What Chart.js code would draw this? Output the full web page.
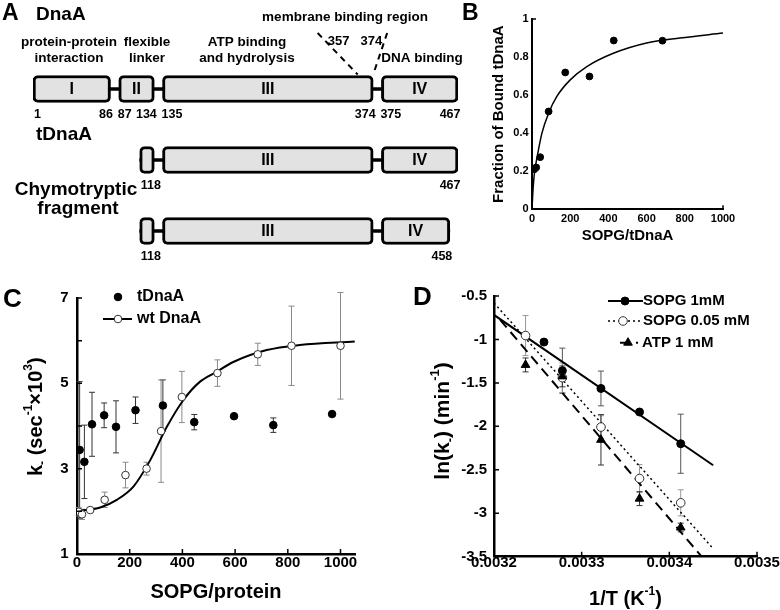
<!DOCTYPE html>
<html>
<head>
<meta charset="utf-8">
<title>DnaA / tDnaA</title>
<script src="https://cdn.jsdelivr.net/npm/chart.js@4.4.1/dist/chart.umd.min.js"></script>
<style>
  body { margin: 0; background: #fff; }
  #fig { position: relative; width: 780px; height: 610px; overflow: hidden; }
  #fig canvas { position: absolute; }
</style>
</head>
<body>
<div id="fig">
  <canvas id="chartA" width="480" height="270" style="left:0;top:0"></canvas>
  <canvas id="chartB" width="325" height="300" style="left:455px;top:0"></canvas>
  <canvas id="chartC" width="390" height="330" style="left:0;top:280px"></canvas>
  <canvas id="chartD" width="390" height="330" style="left:390px;top:280px"></canvas>
</div>
<script>
// A: domain map, residue numbers
var rowNames = ["DnaA", "tDnaA", "Chymotryptic fragment"];
var dnaADomains = [[1, 86], [87, 134], [135, 374], [375, 467]];
var tDnaADomains = [[118, 134], [135, 374], [375, 467]];
var chymoDomains = [[118, 134], [135, 374], [375, 458]];
var domainNames = [["I", "II", "III", "IV"], ["", "III", "IV"], ["", "III", "IV"]];
var membraneSites = [357, 374];

// B: binding
var boundRatio = [12, 22, 43, 87, 174, 301, 428, 683];
var boundFraction = [0.21, 0.22, 0.274, 0.514, 0.719, 0.698, 0.887, 0.886];
var boundFitX = [0, 4, 8, 14, 26, 52, 87, 130, 200, 287, 426, 600, 774, 1000];
var boundFitY = [0, 0.08, 0.14, 0.2, 0.27, 0.4, 0.505, 0.593, 0.68, 0.75, 0.82, 0.874, 0.9, 0.926];

// C: rate vs SOPG/protein
var tDnaARatio = [10, 28, 57, 103, 148, 222, 326, 445, 596, 745, 968];
var tDnaARate = [3.44, 3.16, 4.04, 4.25, 3.98, 4.37, 4.48, 4.09, 4.23, 4.02, 4.28];
var tDnaAErr = [1.6, 0.86, 0.75, 0.29, 0.61, 0.31, 0.6, 0.18, 0, 0.17, 0];
var wtRatio = [6, 19, 50, 105, 184, 264, 319, 398, 533, 686, 814, 1000];
var wtRate = [1.99, 1.93, 2.03, 2.27, 2.85, 3.0, 3.88, 4.68, 5.24, 5.68, 5.88, 5.88];
var wtErr = [0.1, 0.12, 0.05, 0.18, 0.3, 0.15, 1.2, 0.6, 0.31, 0.26, 0.93, 1.25];
var wtFitX = [6, 88, 151, 214, 278, 341, 404, 467, 530, 593, 720, 846, 1054];
var wtFitY = [2.01, 2.09, 2.27, 2.58, 3.2, 3.98, 4.61, 5.04, 5.27, 5.5, 5.78, 5.9, 5.98];

// D: Arrhenius
var invTSopg1mM = [0.003257, 0.003278, 0.003322, 0.003366, 0.003413];
var lnkSopg1mM = [-1.03, -1.36, -1.564, -1.835, -2.2];
var errSopg1mM = [0, 0.26, 0.2, 0, 0.34];
var invTSopg005 = [0.003236, 0.003278, 0.003322, 0.003366, 0.003413];
var lnkSopg005 = [-0.955, -1.44, -2.008, -2.6, -2.88];
var errSopg005 = [0.23, 0.17, 0.13, 0.16, 0.15];
var invTAtp = [0.003236, 0.003278, 0.003322, 0.003366, 0.003413];
var lnkAtp = [-1.293, -1.425, -2.155, -2.832, -3.164];
var errAtp = [0.08, 0.12, 0.29, 0.08, 0.05];
var fitSopg1mMX = [0.0032, 0.00345];
var fitSopg1mMY = [-0.718, -2.448];
var fitSopg005X = [0.0032, 0.00345];
var fitSopg005Y = [-0.58, -3.407];
var fitAtpX = [0.003207, 0.003437];
var fitAtpY = [-0.774, -3.5];

var FONT = '"Liberation Sans", Arial, Helvetica, sans-serif';
Chart.defaults.font.family = FONT;
Chart.defaults.font.weight = "bold";
Chart.defaults.color = "#000";

var GAP = 8; // blank residues before each following domain (linker)
var BOX_H = 27;
var constructs = [dnaADomains, tDnaADomains, chymoDomains];

function pts(xs, ys) {
  return xs.map(function (x, i) { return { x: x, y: ys[i] }; });
}

function say(ctx, s, x, y, size, align, base) {
  ctx.save();
  ctx.font = "bold " + size + "px " + FONT;
  ctx.fillStyle = "#000";
  ctx.textAlign = align || "left";
  ctx.textBaseline = base || "alphabetic";
  ctx.fillText(s, x, y);
  ctx.restore();
}

// text with sub/superscripts, centred on (x, y)
function rich(ctx, runs, x, y, size, vertical) {
  function font(k) { return "bold " + (k ? Math.round(size * 0.62) : size) + "px " + FONT; }
  ctx.save();
  ctx.translate(x, y);
  if (vertical) ctx.rotate(-Math.PI / 2);
  var w = 0;
  runs.forEach(function (r) { ctx.font = font(r[1]); w += ctx.measureText(r[0]).width; });
  var cx = -w / 2;
  ctx.fillStyle = "#000";
  ctx.textAlign = "left";
  ctx.textBaseline = "middle";
  runs.forEach(function (r) {
    ctx.font = font(r[1]);
    var dy = r[1] === 1 ? -size * 0.38 : r[1] === -1 ? size * 0.32 : 0;
    ctx.fillText(r[0], cx, dy);
    cx += ctx.measureText(r[0]).width;
  });
  ctx.restore();
}

function marker(ctx, ds, x, y) {
  ctx.save();
  ctx.fillStyle = ds.backgroundColor;
  ctx.strokeStyle = ds.borderColor;
  ctx.lineWidth = ds.borderWidth || 1;
  Chart.helpers.drawPoint(ctx, {
    pointStyle: ds.pointStyle || "circle", radius: ds.pointRadius,
    rotation: 0, borderWidth: ds.borderWidth || 1
  }, x, y);
  ctx.restore();
}

function legendEntry(ctx, ds, line, x0, x1, xm, y, xt, size) {
  if (line) {
    ctx.save();
    ctx.strokeStyle = "#000";
    ctx.lineWidth = line.borderWidth;
    ctx.setLineDash(line.borderDash || []);
    ctx.beginPath();
    ctx.moveTo(x0, y);
    ctx.lineTo(x1, y);
    ctx.stroke();
    ctx.restore();
  }
  marker(ctx, ds, xm, y);
  say(ctx, ds.label, xt, y, size, "left", "middle");
}

var errorBars = {
  id: "errorBars",
  beforeDatasetsDraw: function (chart) {
    var ctx = chart.ctx, xs = chart.scales.x, ys = chart.scales.y;
    chart.data.datasets.forEach(function (ds) {
      if (!ds.errors) return;
      ctx.save();
      ctx.strokeStyle = ds.errorColor;
      ctx.lineWidth = 1;
      ds.data.forEach(function (p, j) {
        var e = ds.errors[j];
        if (!e) return;
        var x = xs.getPixelForValue(p.x);
        var y1 = ys.getPixelForValue(p.y + e), y2 = ys.getPixelForValue(p.y - e);
        ctx.beginPath();
        ctx.moveTo(x, y1); ctx.lineTo(x, y2);
        ctx.moveTo(x - 3, y1); ctx.lineTo(x + 3, y1);
        ctx.moveTo(x - 3, y2); ctx.lineTo(x + 3, y2);
        ctx.stroke();
      });
      ctx.restore();
    });
  }
};

// short tick marks pointing into the plot
var inwardTicks = {
  id: "inwardTicks",
  afterDraw: function (chart) {
    var ctx = chart.ctx, a = chart.chartArea, xs = chart.scales.x, ys = chart.scales.y;
    ctx.save();
    ctx.strokeStyle = "#000";
    ctx.lineWidth = 1.5;
    ctx.beginPath();
    xs.ticks.forEach(function (t) {
      var x = xs.getPixelForValue(t.value);
      ctx.moveTo(x, a.bottom);
      ctx.lineTo(x, a.bottom - 5);
    });
    ys.ticks.forEach(function (t) {
      var y = ys.getPixelForValue(t.value);
      ctx.moveTo(a.left, y);
      ctx.lineTo(a.left + 5, y);
    });
    ctx.stroke();
    ctx.restore();
  }
};

function axis(opts) {
  return Object.assign({
    type: "linear",
    grid: { drawOnChartArea: false, drawTicks: false },
    border: { color: "#000", width: 2.5 }
  }, opts);
}

// ---------- A ----------
var boxData = [], linkData = [];
constructs.forEach(function (doms, r) {
  doms.forEach(function (d, i) {
    boxData.push({ y: rowNames[r], x: [i ? d[0] + GAP : d[0], d[1]] });
  });
  linkData.push({ y: rowNames[r], x: [doms[0][0], doms[doms.length - 1][1]] });
});

function drawA(chart) {
  var ctx = chart.ctx, xs = chart.scales.x, ys = chart.scales.y;
  function box(r, i) {
    var d = constructs[r][i];
    return [xs.getPixelForValue(i ? d[0] + GAP : d[0]), xs.getPixelForValue(d[1])];
  }
  say(ctx, "A", 2, 20, 23);
  say(ctx, "DnaA", 36, 20, 19);
  say(ctx, "tDnaA", 36, 140, 19);
  say(ctx, "Chymotryptic", 76, 195, 19, "center");
  say(ctx, "fragment", 78, 214, 19, "center");

  say(ctx, "membrane binding region", 345, 21, 13.5, "center");
  say(ctx, "protein-protein", 69, 46, 13.5, "center");
  say(ctx, "interaction", 69, 62, 13.5, "center");
  say(ctx, "flexible", 147, 46, 13.5, "center");
  say(ctx, "linker", 147, 62, 13.5, "center");
  say(ctx, "ATP binding", 247, 46, 13.5, "center");
  say(ctx, "and hydrolysis", 247, 62, 13.5, "center");
  say(ctx, "DNA binding", 422, 62, 13.5, "center");

  var topY = ys.getPixelForValue(0) - BOX_H / 2;
  ctx.save();
  ctx.setLineDash([6, 5]);
  ctx.lineWidth = 2;
  ctx.strokeStyle = "#000";
  membraneSites.forEach(function (res, k) {
    var xb = xs.getPixelForValue(res);
    var xt = k ? xb + 14 : xb - 40;
    ctx.beginPath();
    ctx.moveTo(xt, 33);
    ctx.lineTo(xb, topY - 1);
    ctx.stroke();
    say(ctx, String(res), k ? xt - 5 : xt + 10, 45, 13, k ? "right" : "left");
  });
  ctx.restore();

  constructs.forEach(function (doms, r) {
    var yc = ys.getPixelForValue(r);
    var yNum = yc + BOX_H / 2 + 15;
    doms.forEach(function (d, i) {
      var b = box(r, i);
      if (domainNames[r][i]) say(ctx, domainNames[r][i], (b[0] + b[1]) / 2, yc + 1, 16, "center", "middle");
      if (r === 0 || i === 0) say(ctx, String(d[0]), b[0] + (i ? -1 : 1), yNum, 12.5, "left");
      if (r === 0 || i === doms.length - 1) say(ctx, String(d[1]), b[1] + 2.5, yNum, 12.5, "right");
    });
  });
}

new Chart(document.getElementById("chartA"), {
  type: "bar",
  data: {
    labels: rowNames,
    datasets: [
      {
        label: "domains", data: boxData, backgroundColor: "#e2e2e2", borderColor: "#000",
        borderWidth: 3, borderRadius: 5, borderSkipped: false, barThickness: BOX_H,
        grouped: false, order: 1
      },
      {
        label: "linkers", data: linkData, backgroundColor: "#000", borderWidth: 0,
        barThickness: 3, grouped: false, order: 2
      }
    ]
  },
  options: {
    indexAxis: "y", responsive: false, animation: false, events: [],
    layout: { padding: { left: 33, right: 22, top: 53.5, bottom: 3.5 } },
    scales: {
      x: { type: "linear", min: 1, max: 467, display: false },
      y: { type: "category", offset: true, display: false }
    },
    plugins: { legend: { display: false }, tooltip: { enabled: false } }
  },
  plugins: [{ id: "decorA", afterDraw: drawA }]
});

// ---------- B ----------
function drawB(chart) {
  var ctx = chart.ctx, a = chart.chartArea;
  say(ctx, "B", 7, 20, 23);
  ctx.save();
  ctx.strokeStyle = "#000";
  ctx.lineWidth = 1.5;
  ctx.beginPath();
  ctx.moveTo(a.left, a.top); ctx.lineTo(a.left + 4, a.top);
  ctx.moveTo(a.right, a.bottom); ctx.lineTo(a.right, a.bottom - 4);
  ctx.stroke();
  ctx.restore();
}

new Chart(document.getElementById("chartB"), {
  type: "scatter",
  data: {
    datasets: [
      {
        label: "fit", data: pts(boundFitX, boundFitY), showLine: true, borderColor: "#000",
        borderWidth: 1.5, pointRadius: 0, cubicInterpolationMode: "monotone", order: 2
      },
      {
        label: "tDnaA", data: pts(boundRatio, boundFraction), pointRadius: 3.4,
        backgroundColor: "#000", borderColor: "#000", order: 1
      }
    ]
  },
  options: {
    responsive: false, animation: false, events: [],
    layout: { padding: { left: 0, top: 19, right: 57, bottom: 0 } },
    scales: {
      x: axis({
        min: 0, max: 1000,
        ticks: { stepSize: 200, font: { size: 11 }, padding: 3.4, callback: function (v) { return String(v); } },
        border: { color: "#000", width: 2 },
        title: { display: true, text: "SOPG/tDnaA", font: { size: 15 }, padding: { top: 0, bottom: 55 } },
        afterFit: function (s) { s.height = 90.7; }
      }),
      y: axis({
        min: 0, max: 1,
        ticks: { stepSize: 0.2, font: { size: 11 }, padding: 3.4, callback: function (v) { return String(+v.toFixed(1)); } },
        border: { color: "#000", width: 2 },
        title: { display: true, text: "Fraction of Bound tDnaA", font: { size: 15 }, padding: { top: 35, bottom: 0 } },
        afterFit: function (s) { s.width = 77; }
      })
    },
    plugins: { legend: { display: false }, tooltip: { enabled: false } }
  },
  plugins: [{ id: "decorB", afterDraw: drawB }]
});

// ---------- C ----------
function drawC(chart) {
  var ctx = chart.ctx, s = chart.data.datasets;
  say(ctx, "C", 3, 27, 26);
  rich(ctx, [["k", 0], ["-", -1], [" (sec", 0], ["-1", 1], ["\u00d710", 0], ["3", 1], [")", 0]], 36, 136.7, 20, true);
  legendEntry(ctx, s[1], null, 0, 0, 118, 17, 137, 16);
  legendEntry(ctx, s[2], s[0], 103, 132, 118, 39, 137, 16);
}

new Chart(document.getElementById("chartC"), {
  type: "scatter",
  data: {
    datasets: [
      {
        label: "wt fit", data: pts(wtFitX, wtFitY), showLine: true, borderColor: "#000",
        borderWidth: 2, pointRadius: 0, cubicInterpolationMode: "monotone", order: 10
      },
      {
        label: "tDnaA", data: pts(tDnaARatio, tDnaARate), errors: tDnaAErr, errorColor: "#333",
        pointRadius: 3.8, backgroundColor: "#000", borderColor: "#000", borderWidth: 1, order: 2
      },
      {
        label: "wt DnaA", data: pts(wtRatio, wtRate), errors: wtErr, errorColor: "#8a8a8a",
        pointRadius: 3.8, backgroundColor: "#fff", borderColor: "#333", borderWidth: 1, order: 1
      }
    ]
  },
  options: {
    responsive: false, animation: false, events: [],
    layout: { padding: { left: 0, top: 18, right: 35, bottom: 0 } },
    scales: {
      x: axis({
        min: 0, max: 1055,
        ticks: { stepSize: 200, includeBounds: false, font: { size: 15 }, padding: -0.5, callback: function (v) { return String(v); } },
        title: { display: true, text: "SOPG/protein", font: { size: 20 }, padding: { top: 0, bottom: 5.5 } },
        afterFit: function (s) { s.height = 56; }
      }),
      y: axis({
        min: 1, max: 7,
        ticks: { stepSize: 1, font: { size: 15 }, padding: 8.4, callback: function (v) { return v % 2 ? String(v) : ""; } },
        afterFit: function (s) { s.width = 77; }
      })
    },
    plugins: { legend: { display: false }, tooltip: { enabled: false } }
  },
  plugins: [errorBars, inwardTicks, { id: "decorC", afterDraw: drawC }]
});

// ---------- D ----------
function drawD(chart) {
  var ctx = chart.ctx, s = chart.data.datasets;
  say(ctx, "D", 23, 25, 26);
  rich(ctx, [["ln(k", 0], ["-", -1], [") (min", 0], ["-1", 1], [")", 0]], 53.5, 141, 21, true);
  rich(ctx, [["1/T (K", 0], ["-1", 1], [")", 0]], 235.5, 319, 20, false);
  legendEntry(ctx, s[3], s[0], 218, 253, 235, 21, 253, 15);
  legendEntry(ctx, s[4], s[1], 218, 252, 233, 41, 253, 15);
  legendEntry(ctx, s[5], s[2], 230, 248, 238, 62.7, 252, 15);
}

new Chart(document.getElementById("chartD"), {
  type: "scatter",
  data: {
    datasets: [
      { label: "fit 1mM", data: pts(fitSopg1mMX, fitSopg1mMY), showLine: true, borderColor: "#000", borderWidth: 2, pointRadius: 0, order: 10 },
      { label: "fit 0.05", data: pts(fitSopg005X, fitSopg005Y), showLine: true, borderColor: "#000", borderWidth: 1.5, borderDash: [2, 3], pointRadius: 0, order: 10 },
      { label: "fit ATP", data: pts(fitAtpX, fitAtpY), showLine: true, borderColor: "#000", borderWidth: 2, borderDash: [10, 6], pointRadius: 0, order: 10 },
      {
        label: "SOPG 1mM", data: pts(invTSopg1mM, lnkSopg1mM), errors: errSopg1mM, errorColor: "#555",
        pointRadius: 4, backgroundColor: "#000", borderColor: "#000", borderWidth: 1, order: 4
      },
      {
        label: "SOPG 0.05 mM", data: pts(invTSopg005, lnkSopg005), errors: errSopg005, errorColor: "#999",
        pointRadius: 4.3, backgroundColor: "#fff", borderColor: "#333", borderWidth: 1, order: 3
      },
      {
        label: "ATP 1 mM", data: pts(invTAtp, lnkAtp), errors: errAtp, errorColor: "#333",
        pointStyle: "triangle", pointRadius: 5, backgroundColor: "#000", borderColor: "#000", borderWidth: 1, order: 2
      }
    ]
  },
  options: {
    responsive: false, animation: false, events: [],
    layout: { padding: { left: 0, top: 10.7, right: 23, bottom: 0 } },
    scales: {
      x: axis({
        min: 0.0032, max: 0.0035,
        ticks: { stepSize: 0.0001, font: { size: 15 }, padding: -2.4, callback: function (v) { return v.toFixed(4); } },
        afterFit: function (s) { s.height = 53.3; }
      }),
      y: axis({
        min: -3.5, max: -0.5,
        ticks: { stepSize: 0.5, font: { size: 15 }, padding: 7, callback: function (v) { return String(+v.toFixed(1)); } },
        afterFit: function (s) { s.width = 104; }
      })
    },
    plugins: { legend: { display: false }, tooltip: { enabled: false } }
  },
  plugins: [errorBars, inwardTicks, { id: "decorD", afterDraw: drawD }]
});
</script>
</body>
</html>
